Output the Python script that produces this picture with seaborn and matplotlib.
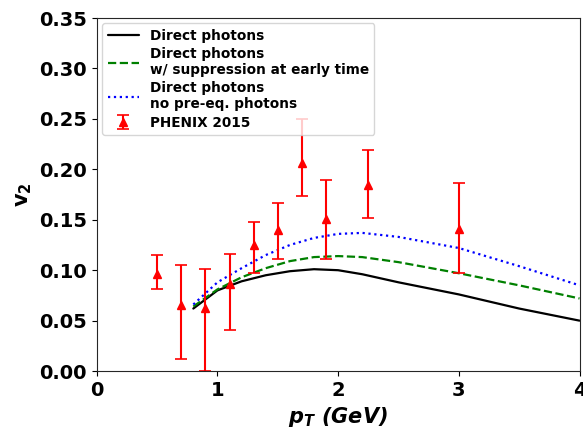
import numpy as np
import pandas as pd
import matplotlib
matplotlib.use("Agg")
import matplotlib.pyplot as plt
import seaborn as sns

# model curves
pt_model = [0.8, 1.0, 1.2, 1.4, 1.6, 1.8, 2.0, 2.2, 2.5, 3.0, 3.5, 4.0]
v2_direct = [0.062, 0.080, 0.089, 0.095, 0.099, 0.101, 0.100, 0.096, 0.088, 0.076, 0.062, 0.050]
v2_suppr = [0.064, 0.081, 0.093, 0.102, 0.109, 0.113, 0.114, 0.113, 0.108, 0.097, 0.085, 0.072]
v2_nopreeq = [0.066, 0.088, 0.102, 0.115, 0.125, 0.132, 0.136, 0.137, 0.133, 0.122, 0.104, 0.085]

# PHENIX 2015 data
pt_data = [0.5, 0.7, 0.9, 1.1, 1.3, 1.5, 1.7, 1.9, 2.25, 3.0]
v2_data = [0.096, 0.066, 0.063, 0.086, 0.125, 0.140, 0.206, 0.151, 0.184, 0.141]
err_up = [0.019, 0.039, 0.038, 0.030, 0.023, 0.027, 0.044, 0.038, 0.035, 0.045]
err_down = [0.015, 0.054, 0.063, 0.045, 0.028, 0.029, 0.032, 0.040, 0.032, 0.044]

sns.set_style("ticks", {"axes.labelcolor": "black", "xtick.color": "black",
                        "ytick.color": "black", "text.color": "black"})
plt.rcParams["font.family"] = ["DejaVu Sans"]
plt.rcParams["font.weight"] = "bold"

fig = plt.figure(figsize=(5.83, 4.29), dpi=100)
ax = fig.add_axes([0.166, 0.135, 0.828, 0.823])

sns.lineplot(x=pt_model, y=v2_direct, color="black", lw=1.6, ax=ax, label="Direct photons")
sns.lineplot(x=pt_model, y=v2_suppr, color="green", lw=1.6, ls="--", ax=ax,
             label="Direct photons\nw/ suppression at early time")
sns.lineplot(x=pt_model, y=v2_nopreeq, color="blue", lw=1.6, ls=":", ax=ax,
             label="Direct photons\nno pre-eq. photons")
ax.errorbar(pt_data, v2_data, yerr=[err_down, err_up], fmt="^", color="red",
            ms=6, capsize=4, elinewidth=1.5, capthick=1.2, label="PHENIX 2015")

ax.set_xlim(0, 4)
ax.set_ylim(0, 0.35)
ax.set_xticks([0, 1, 2, 3, 4])
ax.set_yticks(np.arange(0, 0.36, 0.05))
ax.set_yticklabels([f"{v:.2f}" for v in np.arange(0, 0.36, 0.05)])
ax.tick_params(labelsize=14)
for lab in ax.get_xticklabels() + ax.get_yticklabels():
    lab.set_fontweight("bold")
for s in ax.spines.values():
    s.set_visible(True)

ax.set_xlabel(r"$\mathbfit{p_T}$ (GeV)", fontsize=15, fontweight="bold", style="italic")
ax.set_ylabel(r"$\mathbf{v_2}$", fontsize=15)

leg = ax.legend(loc="upper left", prop={"weight": "bold", "size": 9.8},
                handlelength=2.3, borderaxespad=0.4, labelspacing=0.3)

fig.savefig("out.png", dpi=100)
